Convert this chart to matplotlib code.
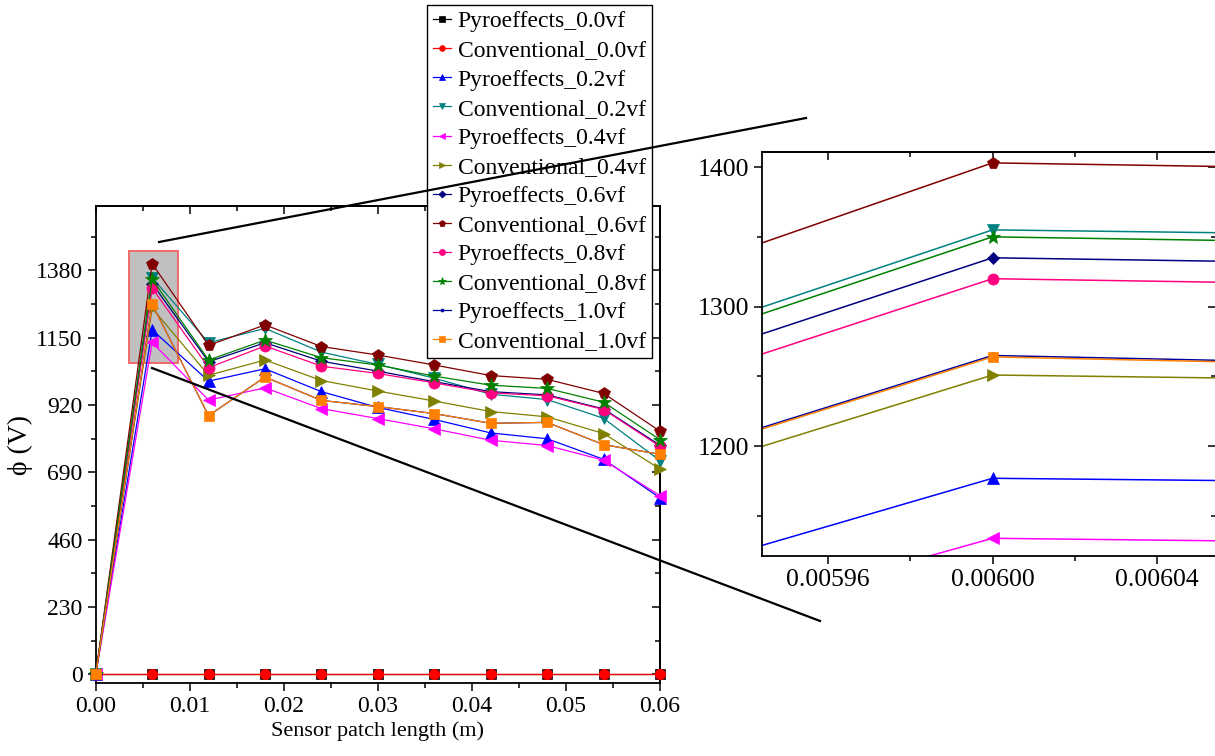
import matplotlib
matplotlib.use('Agg')
import matplotlib.pyplot as plt
from matplotlib.lines import Line2D
from matplotlib.patches import Rectangle
from matplotlib.ticker import MultipleLocator, FormatStrFormatter

plt.rcParams['font.family'] = ['Liberation Serif', 'DejaVu Serif']

# sensor patch length (m)
x = [0.0, 0.006, 0.012, 0.018, 0.024, 0.030, 0.036, 0.042, 0.048, 0.054, 0.060]
# the zoomed panel was built from its own x column (first sample sits at ~0.00463)
x_inset = [0.00463, 0.006, 0.012, 0.018, 0.024, 0.030, 0.036, 0.042, 0.048, 0.054, 0.060]

pyro_00 = [0, 0, 0, 0, 0, 0, 0, 0, 0, 0, 0]
conv_00 = [0, 0, 0, 0, 0, 0, 0, 0, 0, 0, 0]
pyro_02 = [0, 1177, 1002, 1044, 966, 912, 871, 825, 805, 735, 603]
conv_02 = [0, 1355, 1133, 1182, 1101, 1059, 1012, 957, 939, 875, 730]
pyro_04 = [0, 1134, 937, 979, 908, 874, 839, 800, 782, 732, 611]
conv_04 = [0, 1251, 1022, 1074, 1004, 968, 934, 898, 880, 823, 702]
pyro_06 = [0, 1335, 1068, 1133, 1070, 1036, 1000, 966, 955, 907, 783]
conv_06 = [0, 1403, 1124, 1194, 1120, 1091, 1057, 1021, 1008, 960, 831]
pyro_08 = [0, 1320, 1048, 1122, 1053, 1028, 996, 962, 952, 905, 779]
conv_08 = [0, 1350, 1074, 1142, 1082, 1057, 1019, 988, 977, 930, 802]
pyro_10 = [0, 1265, 884, 1016, 936, 915, 891, 858, 861, 785, 752]
conv_10 = [0, 1264, 884, 1016, 936, 915, 891, 858, 861, 785, 752]

labels = ['Pyroeffects_0.0vf', 'Conventional_0.0vf', 'Pyroeffects_0.2vf', 'Conventional_0.2vf',
          'Pyroeffects_0.4vf', 'Conventional_0.4vf', 'Pyroeffects_0.6vf', 'Conventional_0.6vf',
          'Pyroeffects_0.8vf', 'Conventional_0.8vf', 'Pyroeffects_1.0vf', 'Conventional_1.0vf']
series = [pyro_00, conv_00, pyro_02, conv_02, pyro_04, conv_04,
          pyro_06, conv_06, pyro_08, conv_08, pyro_10, conv_10]

colors  = ['#000000', '#ff0000', '#0000ff', '#008080', '#ff00ff', '#808000',
           '#000080', '#800000', '#ff0080', '#008000', '#0000a0', '#ff8000']
markers = ['s', 'o', '^', 'v', '<', '>', 'D', 'p', 'o', '*', 'o', 's']
msizes  = [7, 7.5, 8, 8, 8, 8, 6.5, 8.5, 8, 10.5, 4, 7.5]


def decorate(ax, xmaj, xmin, ymaj, ymin, size):
    ax.xaxis.set_major_locator(MultipleLocator(xmaj))
    ax.xaxis.set_minor_locator(MultipleLocator(xmin))
    ax.yaxis.set_major_locator(MultipleLocator(ymaj))
    ax.yaxis.set_minor_locator(MultipleLocator(ymin))
    ax.tick_params(which='both', direction='out', top=False, right=False, width=1.1, labelsize=size)
    ax.tick_params(which='major', length=6)
    ax.tick_params(which='minor', length=3.5)
    for s in ax.spines.values():
        s.set_linewidth(1.3)

    top = ax.secondary_xaxis('top')
    top.xaxis.set_major_locator(MultipleLocator(xmaj))
    top.xaxis.set_minor_locator(MultipleLocator(xmin))
    top.tick_params(which='both', direction='in', labeltop=False, width=1.1)
    top.tick_params(which='major', length=6)
    top.tick_params(which='minor', length=3.5)
    top.spines['top'].set_linewidth(1.3)

    rgt = ax.secondary_yaxis('right')
    rgt.yaxis.set_major_locator(MultipleLocator(ymaj))
    rgt.yaxis.set_minor_locator(MultipleLocator(ymin))
    rgt.tick_params(which='both', direction='in', labelright=False, width=1.1)
    rgt.tick_params(which='major', length=6)
    rgt.tick_params(which='minor', length=3.5)
    rgt.spines['right'].set_linewidth(1.3)


fig = plt.figure(figsize=[12.15, 7.56], dpi=100)

# main panel
ax = fig.add_axes([0.0788, 0.0962, 0.4644, 0.6313])
handles = []
for y, c, m, ms, lab in zip(series, colors, markers, msizes, labels):
    h, = ax.plot(x, y, color=c, marker=m, markersize=ms, lw=0.9, label=lab,
                 markeredgewidth=0.5, clip_on=False, zorder=3)
    handles.append(h)

ax.add_patch(Rectangle((0.0035, 1064), 0.0052, 383, facecolor='#c0c0c0',
                       edgecolor='#f06060', lw=1.3, zorder=1))

ax.set_xlim(0.0, 0.06)
ax.set_ylim(-30, 1600)
decorate(ax, 0.01, 0.005, 230, 115, 17)
ax.xaxis.set_major_formatter(FormatStrFormatter('%.2f'))
ax.set_xlabel('Sensor patch length (m)', fontsize=16, labelpad=3)
ax.set_ylabel('ϕ (V)', fontsize=20, labelpad=2)

# zoomed panel
axi = fig.add_axes([0.6272, 0.2649, 0.3736, 0.5344])
for y, c, m, ms in zip(series, colors, markers, msizes):
    axi.plot(x_inset, y, color=c, marker=m, markersize=ms, lw=1.1, markeredgewidth=0.5)
axi.set_xlim(0.005944, 0.0060543)
axi.set_ylim(1121.5, 1411)
decorate(axi, 0.00004, 0.00002, 100, 50, 18.5)
axi.xaxis.set_major_formatter(FormatStrFormatter('%.5f'))

# zoom connector lines
fig.add_artist(Line2D([0.1309, 0.6634], [0.6799, 0.8439], color='black', lw=1.6,
                      transform=fig.transFigure, zorder=20))
fig.add_artist(Line2D([0.1251, 0.6749], [0.5132, 0.1786], color='black', lw=1.6,
                      transform=fig.transFigure, zorder=20))

leg = fig.legend(handles, labels, loc='upper left', bbox_to_anchor=(427 / 1215, 1 - 5 / 756),
                 fontsize=17, frameon=True, fancybox=False, framealpha=1, edgecolor='black',
                 borderaxespad=0, borderpad=0.25, labelspacing=0.32, handlelength=0.75,
                 handletextpad=0.3, markerscale=0.55)
leg.get_frame().set_linewidth(1.0)
leg.set_zorder(10)

fig.savefig('out.png', dpi=100)
